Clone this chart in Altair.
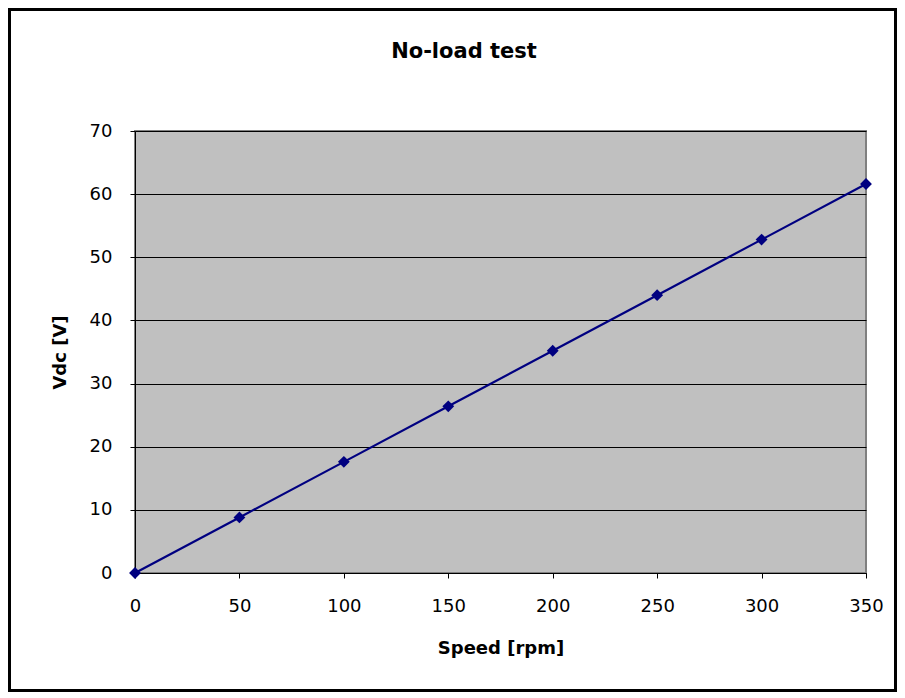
import altair as alt
import pandas as pd

speed = [0, 50, 100, 150, 200, 250, 300, 350]
vdc = [0.0, 8.8, 17.6, 26.4, 35.2, 44.0, 52.8, 61.6]
title_text = ["No-load test"]
df = pd.DataFrame({"Speed": speed, "Vdc": vdc})

W, H = 731, 442
PL, PT, PR, PB = 127, 123, 31, 119
FONT = "DejaVu Sans"

xenc = alt.X("Speed:Q", scale=alt.Scale(domain=[0, 350], nice=False),
             axis=alt.Axis(values=[0, 50, 100, 150, 200, 250, 300, 350], title="Speed [rpm]",
                           grid=False, tickSize=5, labelPadding=19, titlePadding=24,
                           labelFlush=False,
                           domainColor="#000000", tickColor="#000000"))
yenc = alt.Y("Vdc:Q", scale=alt.Scale(domain=[0, 70], nice=False),
             axis=alt.Axis(values=[0, 10, 20, 30, 40, 50, 60, 70], title="Vdc [V]",
                           grid=True, gridColor="#000000", gridOpacity=1, gridWidth=1,
                           tickSize=5, labelPadding=18, titlePadding=20,
                           labelFlush=False,
                           domainColor="#000000", tickColor="#000000"))

line = alt.Chart(df).mark_line(color="#000080", strokeWidth=2.2).encode(x=xenc, y=yenc)
pts = alt.Chart(df).mark_point(shape="diamond", filled=True, size=140, color="#000080",
                               opacity=1).encode(x="Speed:Q", y="Vdc:Q")
border = alt.Chart(df).mark_rect(fill=None, stroke="#000000", strokeWidth=2.5).encode(
    x=alt.value(-PL + 1.5), x2=alt.value(W + PR - 1.5),
    y=alt.value(-PT + 1.5), y2=alt.value(H + PB - 1.5))
title = alt.Chart(pd.DataFrame({"t": title_text})).mark_text(
    font=FONT, fontSize=21, fontWeight="bold", color="#000000",
    align="center", baseline="alphabetic").encode(
    text="t:N", x=alt.value(329), y=alt.value(-73))

chart = alt.layer(line, pts, border, title).properties(
    width=W, height=H,
    autosize=alt.AutoSizeParams(type="none"),
    padding={"left": PL, "top": PT, "right": PR, "bottom": PB},
    background="#ffffff",
).configure_view(fill="#C0C0C0", stroke="#808080", strokeWidth=2).configure_axis(
    labelFont=FONT, labelFontSize=18, labelColor="#000000",
    titleFont=FONT, titleFontSize=18, titleFontWeight="bold", titleColor="#000000",
)

chart.save("out.html", embed_options={"renderer": "svg", "actions": False})
